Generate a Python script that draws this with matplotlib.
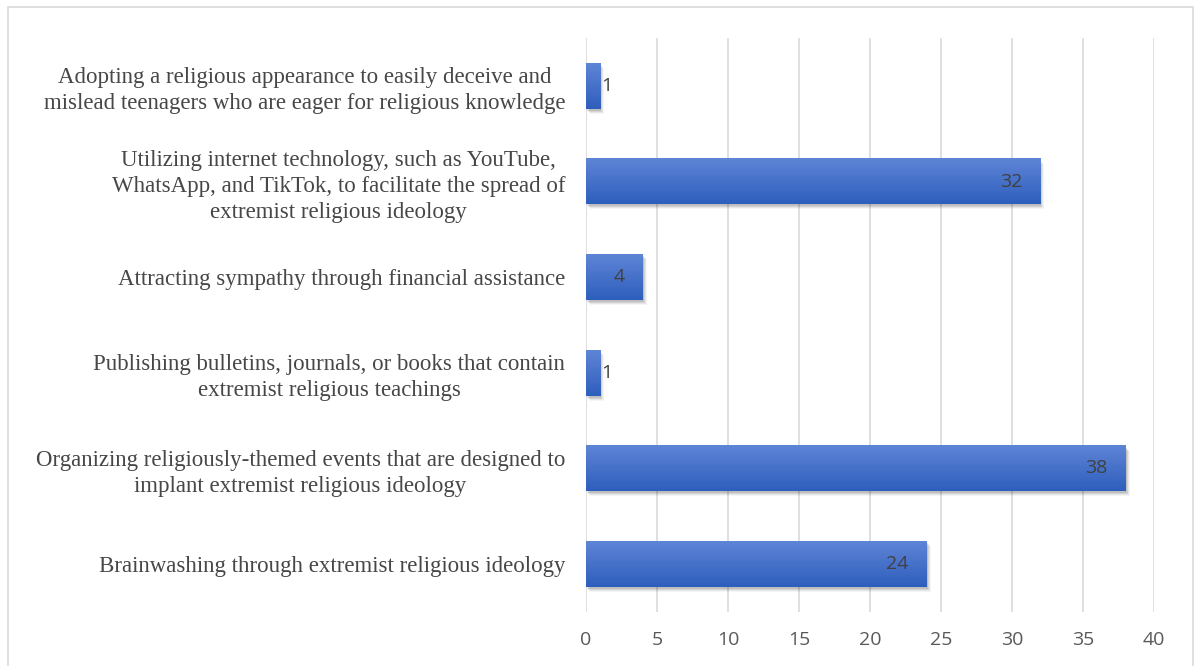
import matplotlib.pyplot as plt
import numpy as np
from matplotlib.patches import Rectangle
import matplotlib.transforms as mtransforms

# Strategies, listed bottom to top as they appear on the y axis
categories = [
    "Brainwashing through extremist religious ideology",
    "Organizing religiously-themed events that are designed to\nimplant extremist religious ideology",
    "Publishing bulletins, journals, or books that contain\nextremist religious teachings",
    "Attracting sympathy through financial assistance",
    "Utilizing internet technology, such as YouTube,\nWhatsApp, and TikTok, to facilitate the spread of\nextremist religious ideology",
    "Adopting a religious appearance to easily deceive and\nmislead teenagers who are eager for religious knowledge",
]
counts = [24, 38, 1, 4, 32, 1]
xticks = [0, 5, 10, 15, 20, 25, 30, 35, 40]

fig = plt.figure(figsize=(11.95, 6.66), dpi=100)
ax = fig.add_axes([0.4904, 0.0811, 0.4753, 0.8618])

# light frame around the whole chart
fig.patches.append(Rectangle((8 / 1195, -0.02), (1193 - 8) / 1195, 1 - 7 / 666 + 0.02,
                             transform=fig.transFigure, fill=False,
                             edgecolor="#d9d9d9", linewidth=1.2))

ypos = np.arange(len(categories))
bar_h = 0.48

# vertical blue gradient for the bars, lighter at the top
grad = np.linspace(0, 1, 64).reshape(-1, 1)
top = np.array([0.37, 0.52, 0.84])
bottom = np.array([0.18, 0.37, 0.74])
img = top + (bottom - top) * grad[:, :, None]
img = img.reshape(64, 1, 3)

for y, v in zip(ypos, counts):
    # soft drop shadow
    for k, a in enumerate([0.10, 0.08, 0.06, 0.04]):
        off = mtransforms.offset_copy(ax.transData, fig=fig, x=1 + k, y=-(2 + k), units="dots")
        ax.add_patch(Rectangle((0, y - bar_h / 2), v, bar_h, transform=off,
                               facecolor="black", alpha=a, edgecolor="none", zorder=2))
    ax.imshow(img, extent=(0, v, y - bar_h / 2, y + bar_h / 2), origin="upper",
              aspect="auto", interpolation="bilinear", zorder=3)
    if v >= 4:
        ax.annotate(str(v), (v, y), xytext=(-13, 0), textcoords="offset points",
                    ha="right", va="center", fontsize=14, color="#404040",
                    family="Open Sans", zorder=4)
    else:
        ax.annotate(str(v), (v, y), xytext=(0.5, 0), textcoords="offset points",
                    ha="left", va="center", fontsize=14, color="#404040",
                    family="Open Sans", zorder=4)

ax.set_xlim(0, 40)
ax.set_ylim(-0.5, len(categories) - 0.5)
ax.set_xticks(xticks)
ax.set_yticks(ypos)
ax.set_yticklabels(categories, family="Liberation Serif", fontsize=16.5,
                   color="#474747", multialignment="center", linespacing=1.3)
for lab in ax.get_xticklabels():
    lab.set_family("Open Sans")
ax.tick_params(axis="x", labelsize=14, colors="#595959", length=0, pad=14)
ax.tick_params(axis="y", length=0, pad=15)
ax.grid(axis="x", color="#d9d9d9", linewidth=1.2, zorder=0)
ax.set_axisbelow(True)
for s in ax.spines.values():
    s.set_visible(False)

fig.savefig("out.png", dpi=100)
